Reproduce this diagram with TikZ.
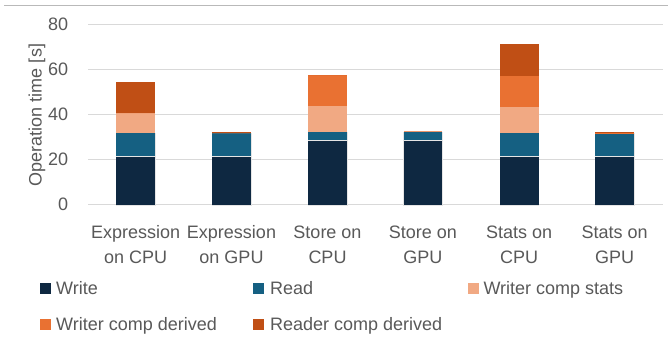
\documentclass[tikz,border=0pt]{standalone}
\usepackage{fontspec}
\setmainfont{Liberation Sans}
\definecolor{cWrite}{HTML}{0E2841}
\definecolor{cRead}{HTML}{156082}
\definecolor{cStats}{HTML}{F1A983}
\definecolor{cDerived}{HTML}{E97132}
\definecolor{cReader}{HTML}{C04F15}
\definecolor{txt}{HTML}{595959}
\definecolor{grid}{HTML}{D9D9D9}
\tikzset{
  lbl/.style={font=\fontsize{18}{21}\selectfont, text=txt, inner sep=0pt},
  gridline/.style={draw=grid, line width=1pt},
  seg/.style={draw=white!80!gray, line width=0.4pt},
  key/.style={minimum size=11pt, inner sep=0pt, anchor=south west},
}
\newcommand{\stackbar}[6]{% center, write, read, stats, derived, reader
  \pgfmathsetmacro{\yA}{136.3}
  \pgfmathsetmacro{\yB}{\yA+2.255*#2}
  \pgfmathsetmacro{\yC}{\yB+2.255*#3}
  \pgfmathsetmacro{\yD}{\yC+2.255*#4}
  \pgfmathsetmacro{\yE}{\yD+2.255*#5}
  \pgfmathsetmacro{\yF}{\yE+2.255*#6}
  \draw[seg] (#1-19.3,\yA) rectangle (#1+19.3,\yC);
  \fill[cWrite] (#1-19.3,\yA) rectangle (#1+19.3,\yB);
  \fill[cRead] (#1-19.3,\yB) rectangle (#1+19.3,\yC);
  \fill[cStats] (#1-19.3,\yC) rectangle (#1+19.3,\yD);
  \fill[cDerived] (#1-19.3,\yD) rectangle (#1+19.3,\yE);
  \fill[cReader] (#1-19.3,\yE) rectangle (#1+19.3,\yF);
  \draw[seg] (#1-19.3,\yB) -- (#1+19.3,\yB);
}
\begin{document}
\begin{tikzpicture}[x=1pt,y=1pt]
\useasboundingbox (0,0) rectangle (668,341);
\fill[white] (0,0) rectangle (668,341);
% top border line
\draw[draw=gray!55, line width=1pt] (4,335) -- (668,335);
% gridlines and y labels
\foreach \v in {0,20,40,60,80}{
  \pgfmathsetmacro{\yy}{136.3+2.255*\v}
  \draw[gridline] (88.3,\yy) -- (662.7,\yy);
  \node[lbl, anchor=east] (ytick\v) at (68.3,\yy) {\v};
}
\node[lbl, rotate=90, anchor=base] (ytitle) at (41.5,226) {Operation time [s]};
% bars
\stackbar{135.7}{21.6}{10.1}{8.8}{0}{13.9}
\stackbar{231.5}{21.6}{10.2}{0}{0}{0.5}
\stackbar{327.5}{28.7}{3.4}{11.5}{13.8}{0}
\stackbar{422.8}{28.7}{3.4}{0.4}{0}{0}
\stackbar{519.2}{21.6}{10.1}{11.8}{13.7}{14.0}
\stackbar{614.7}{21.6}{10.2}{0}{0.1}{0.4}
% category labels
\node[lbl, anchor=base] (c1a) at (135.7,102.7) {Expression};
\node[lbl, anchor=base] (c1b) at (135.7,77.7) {on CPU};
\node[lbl, anchor=base] (c2a) at (231.5,102.7) {Expression};
\node[lbl, anchor=base] (c2b) at (231.5,77.7) {on GPU};
\node[lbl, anchor=base] (c3a) at (327.5,102.7) {Store on};
\node[lbl, anchor=base] (c3b) at (327.5,77.7) {CPU};
\node[lbl, anchor=base] (c4a) at (422.8,102.7) {Store on};
\node[lbl, anchor=base] (c4b) at (422.8,77.7) {GPU};
\node[lbl, anchor=base] (c5a) at (519.2,102.7) {Stats on};
\node[lbl, anchor=base] (c5b) at (519.2,77.7) {CPU};
\node[lbl, anchor=base] (c6a) at (614.7,102.7) {Stats on};
\node[lbl, anchor=base] (c6b) at (614.7,77.7) {GPU};
% legend
\node[key, fill=cWrite] (k1) at (40,47) {};
\node[lbl, anchor=base west] (l1) at (56,47) {Write};
\node[key, fill=cRead] (k2) at (253,47) {};
\node[lbl, anchor=base west] (l2) at (270,47) {Read};
\node[key, fill=cStats] (k3) at (467.7,47) {};
\node[lbl, anchor=base west] (l3) at (483.3,47) {Writer comp stats};
\node[key, fill=cDerived] (k4) at (40,11) {};
\node[lbl, anchor=base west] (l4) at (56,11) {Writer comp derived};
\node[key, fill=cReader] (k5) at (253,11) {};
\node[lbl, anchor=base west] (l5) at (270,11) {Reader comp derived};
\end{tikzpicture}
\end{document}
